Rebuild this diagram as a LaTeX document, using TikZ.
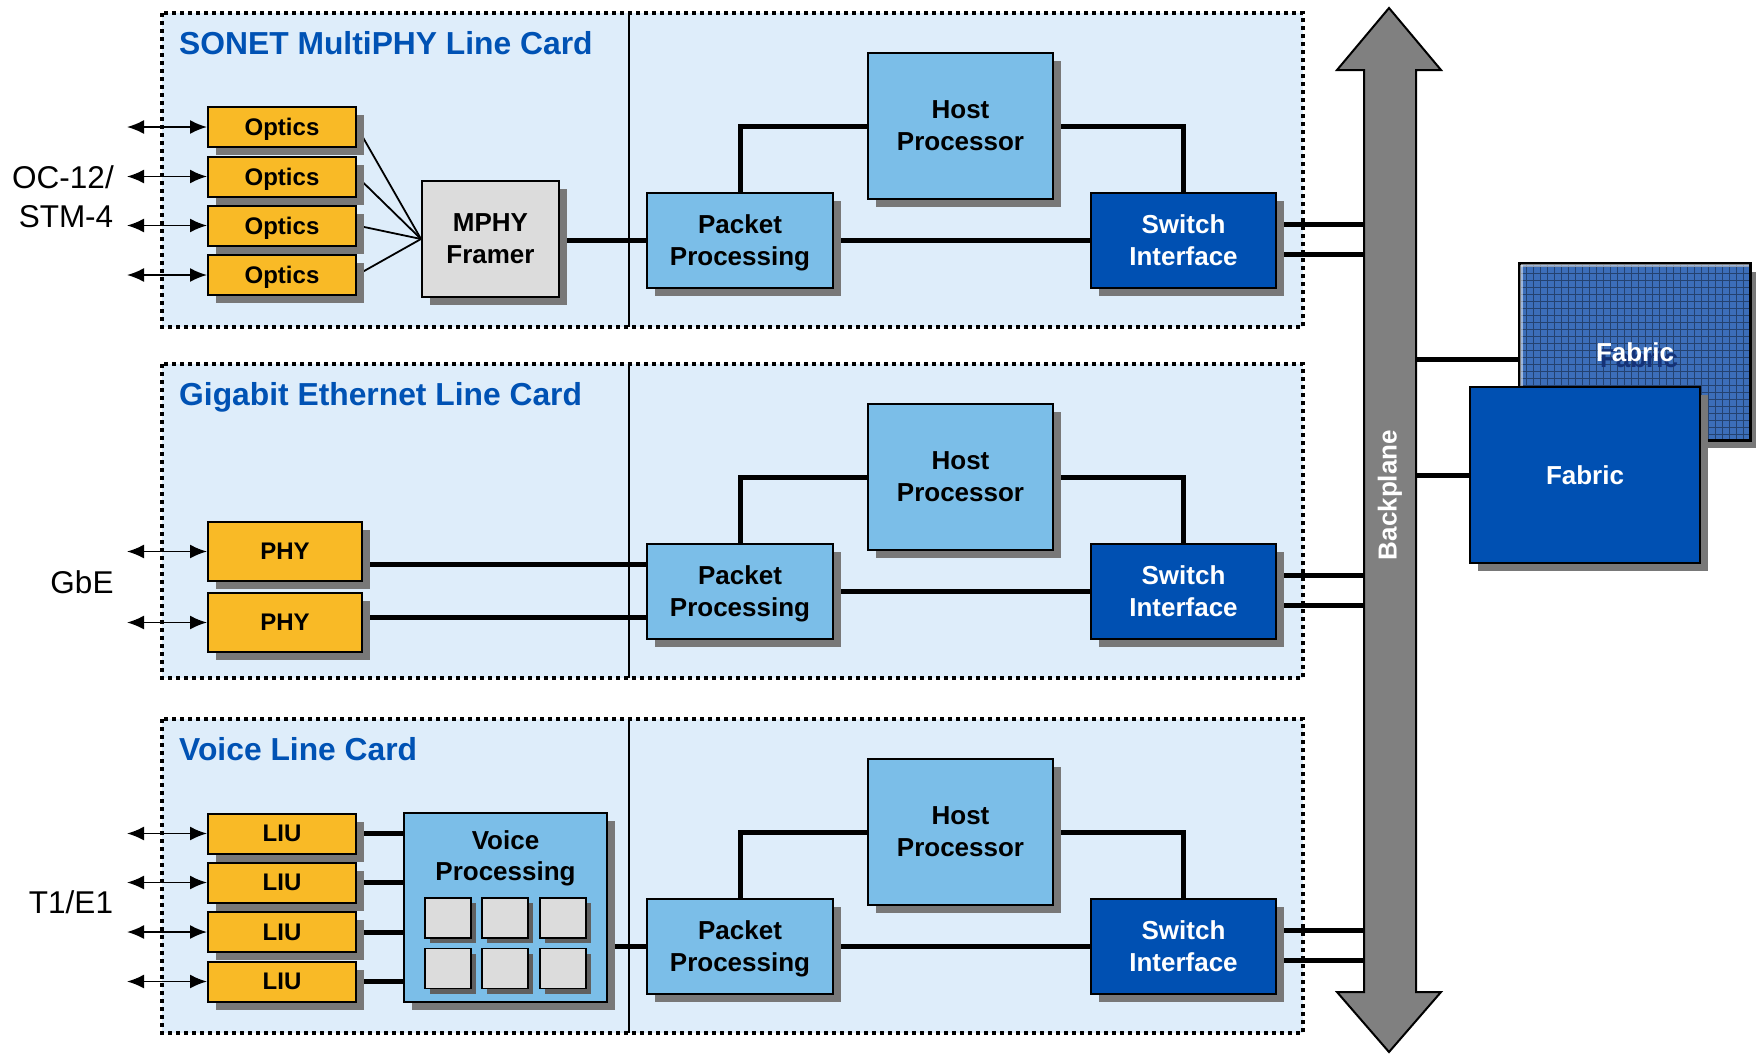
\documentclass[tikz,border=0pt]{standalone}
\usepackage{fontspec}
\setmainfont{Liberation Sans}
\usetikzlibrary{shadows,arrows.meta,calc}
\pgfdeclarelayer{bg}
\pgfdeclarelayer{conn}
\pgfsetlayers{bg,conn,main}
\definecolor{orng}{RGB}{249,186,38}
\definecolor{lblue}{RGB}{123,190,232}
\definecolor{dblue}{RGB}{0,80,178}
\definecolor{ttl}{RGB}{0,82,180}
\definecolor{cardbg}{RGB}{222,237,250}
\definecolor{shgray}{RGB}{120,120,120}
\definecolor{bpgray}{RGB}{128,128,128}
\definecolor{fgray}{RGB}{220,220,220}
\definecolor{fabback}{RGB}{60,110,185}
\definecolor{fabsh}{RGB}{20,50,120}
\begin{document}
\begin{tikzpicture}[x=1pt,y=-1pt,
  >={Latex[length=17pt,width=14pt]},
  box/.style={draw=black, line width=2pt, inner sep=0pt, align=center, text depth=0pt,
    font=\bfseries\fontsize{26pt}{32pt}\selectfont,
    drop shadow={fill=shgray,opacity=1,shadow xshift=8pt,shadow yshift=-8pt}},
  obox/.style={box, fill=orng, minimum width=148pt, minimum height=40pt,
    font=\bfseries\fontsize{24pt}{28pt}\selectfont},
  sq/.style={draw=black, line width=1.5pt, fill=fgray, minimum width=46pt, minimum height=40pt, inner sep=0pt,
    drop shadow={fill=shgray!80!black,opacity=1,shadow xshift=5pt,shadow yshift=-5pt}},
  thk/.style={line width=5pt},
  thn/.style={line width=1.8pt},
  dbl/.style={line width=1.8pt, <->},
  cardtitle/.style={anchor=base west, inner sep=0pt, text=ttl, font=\bfseries\fontsize{31.8pt}{36pt}\selectfont},
  side/.style={inner sep=0pt, font=\fontsize{31.5pt}{36pt}\selectfont},
]
\useasboundingbox (0,0) rectangle (1756,1055);
\coordinate (bpL) at (1364,0);
\coordinate (bpR) at (1416,0);
\coordinate (lx) at (127,0);

% cards
\begin{pgfonlayer}{bg}
\foreach \o in {0,351,706} {
  \fill[cardbg] (162,13+\o) rectangle (1303,327+\o);
  \draw[line width=4pt, dash pattern=on 4pt off 4pt] (162,13+\o) rectangle (1303,327+\o);
  \draw[line width=1.5pt] (629,13+\o) -- (629,327+\o);
}
\end{pgfonlayer}

\node[cardtitle] (t1) at (179,54) {SONET MultiPHY Line Card};
\node[cardtitle] (t2) at (179,405) {Gigabit Ethernet Line Card};
\node[cardtitle] (t3) at (179,760) {Voice Line Card};

% backplane arrow
\draw[line width=2pt, fill=bpgray, line join=miter]
  (1389,8) -- (1441,70) -- (1416,70) -- (1416,992) -- (1441,992) -- (1389,1052)
  -- (1337,992) -- (1364,992) -- (1364,70) -- (1337,70) -- cycle;
\node[rotate=90, text=white, inner sep=0pt, font=\bfseries\fontsize{26pt}{30pt}\selectfont] (bpt) at (1390,495) {Backplane};

% right halves of the cards
\foreach \o/\n in {0/1,351/2,706/3} {
  \node[box, fill=lblue, minimum width=186pt, minimum height=95pt] (pp\n) at (740,240.5+\o) {Packet\\Processing};
  \node[box, fill=lblue, minimum width=185pt, minimum height=146pt] (hp\n) at (960.5,126+\o) {Host\\Processor};
  \node[box, fill=dblue, text=white, minimum width=185pt, minimum height=95pt] (sw\n) at (1183.5,240.5+\o) {Switch\\Interface};
  \begin{pgfonlayer}{conn}
    \draw[thk] (hp\n.west) -| (pp\n.north);
    \draw[thk] (hp\n.east) -| (sw\n.north);
    \draw[thk] (pp\n.east) -- (sw\n.west);
    \draw[thk] ([yshift=16.5pt]sw\n.east) -- ([yshift=16.5pt]sw\n.east -| bpL);
    \draw[thk] ([yshift=-13.5pt]sw\n.east) -- ([yshift=-13.5pt]sw\n.east -| bpL);
  \end{pgfonlayer}
}

% SONET card
\foreach \y [count=\i] in {127,176.5,225.5,275} {
  \node[obox] (o\i) at (282,\y) {Optics};
  \draw[dbl] (lx |- o\i.west) -- (o\i.west);
}
\node[box, fill=fgray, minimum width=137pt, minimum height=116pt] (fr) at (490.5,239) {MPHY\\Framer};
\begin{pgfonlayer}{conn}
  \foreach \i in {1,...,4} { \draw[thn] (o\i.east) -- (fr.west); }
  \draw[thk] (pp1.west -| fr.east) -- (pp1.west);
\end{pgfonlayer}
\node[side] (oc) at (63,177) {OC-12/};
\node[side] (stm) at (66,217) {STM-4};

% Gigabit Ethernet card
\node[obox, minimum width=154pt, minimum height=59pt] (phy1) at (285,551.5) {PHY};
\node[obox, minimum width=154pt, minimum height=59pt] (phy2) at (285,622.5) {PHY};
\draw[dbl] (lx |- phy1.west) -- (phy1.west);
\draw[dbl] (lx |- phy2.west) -- (phy2.west);
\begin{pgfonlayer}{conn}
  \draw[thk] ([yshift=-12.5pt]phy1.east) -- ([yshift=-12.5pt]phy1.east -| pp2.west);
  \draw[thk] ([yshift=5.5pt]phy2.east) -- ([yshift=5.5pt]phy2.east -| pp2.west);
\end{pgfonlayer}
\node[side] (gbe) at (82,582) {GbE};

% Voice card
\node[box, fill=lblue, minimum width=203pt, minimum height=189pt] (vp) at (505.5,907.5) {};
\node[inner sep=0pt, align=center, font=\bfseries\fontsize{26pt}{31pt}\selectfont] (vpt) at (505.5,858) {Voice\\Processing};
\foreach \x [count=\c] in {448,505,563} {
  \node[sq] (sa\c) at (\x,918) {};
  \node[sq] (sb\c) at (\x,968.5) {};
}
\foreach \y [count=\i] in {833.5,882.5,932,981.5} {
  \node[obox] (l\i) at (282,\y) {LIU};
  \draw[dbl] (lx |- l\i.west) -- (l\i.west);
}
\begin{pgfonlayer}{conn}
  \foreach \i in {1,...,4} { \draw[thk] (l\i.east) -- (l\i.east -| vp.west); }
  \draw[thk] (pp3.west -| vp.east) -- (pp3.west);
\end{pgfonlayer}
\node[side] (t1e1) at (71,902) {T1/E1};

% Fabrics
\node[draw=black, line width=2pt, fill=fabback, minimum width=230pt, minimum height=176pt, inner sep=0pt,
  drop shadow={fill=shgray,opacity=1,shadow xshift=8pt,shadow yshift=-8pt}] (fb) at (1635,352) {};
\begin{scope}
  \clip (fb.south west) rectangle (fb.north east);
  \draw[black, opacity=0.4, line width=0.8pt, step=7pt] (fb.south west) grid (fb.north east);
  \draw[white, opacity=0.5, line width=3pt] ([shift={(2pt,-2pt)}]fb.north west) -- ([shift={(-2pt,-2pt)}]fb.north east);
  \draw[white, opacity=0.5, line width=3pt] ([shift={(2pt,-2pt)}]fb.north west) -- ([shift={(2pt,2pt)}]fb.south west);
\end{scope}
\draw[line width=2pt] (fb.south west) rectangle (fb.north east);
\node[text=fabsh, inner sep=0pt, font=\bfseries\fontsize{26pt}{30pt}\selectfont] (fbs) at (1639,358) {Fabric};
\node[text=white, inner sep=0pt, font=\bfseries\fontsize{26pt}{30pt}\selectfont] (fbt) at (1635,352) {Fabric};
\node[box, fill=dblue, text=white, minimum width=230pt, minimum height=176pt] (ff) at (1585,475) {Fabric};
\begin{pgfonlayer}{conn}
  \draw[thk] ([yshift=-7pt]fb.west -| bpR) -- ([yshift=-7pt]fb.west);
  \draw[thk] (ff.west -| bpR) -- (ff.west);
\end{pgfonlayer}
\end{tikzpicture}
\end{document}
